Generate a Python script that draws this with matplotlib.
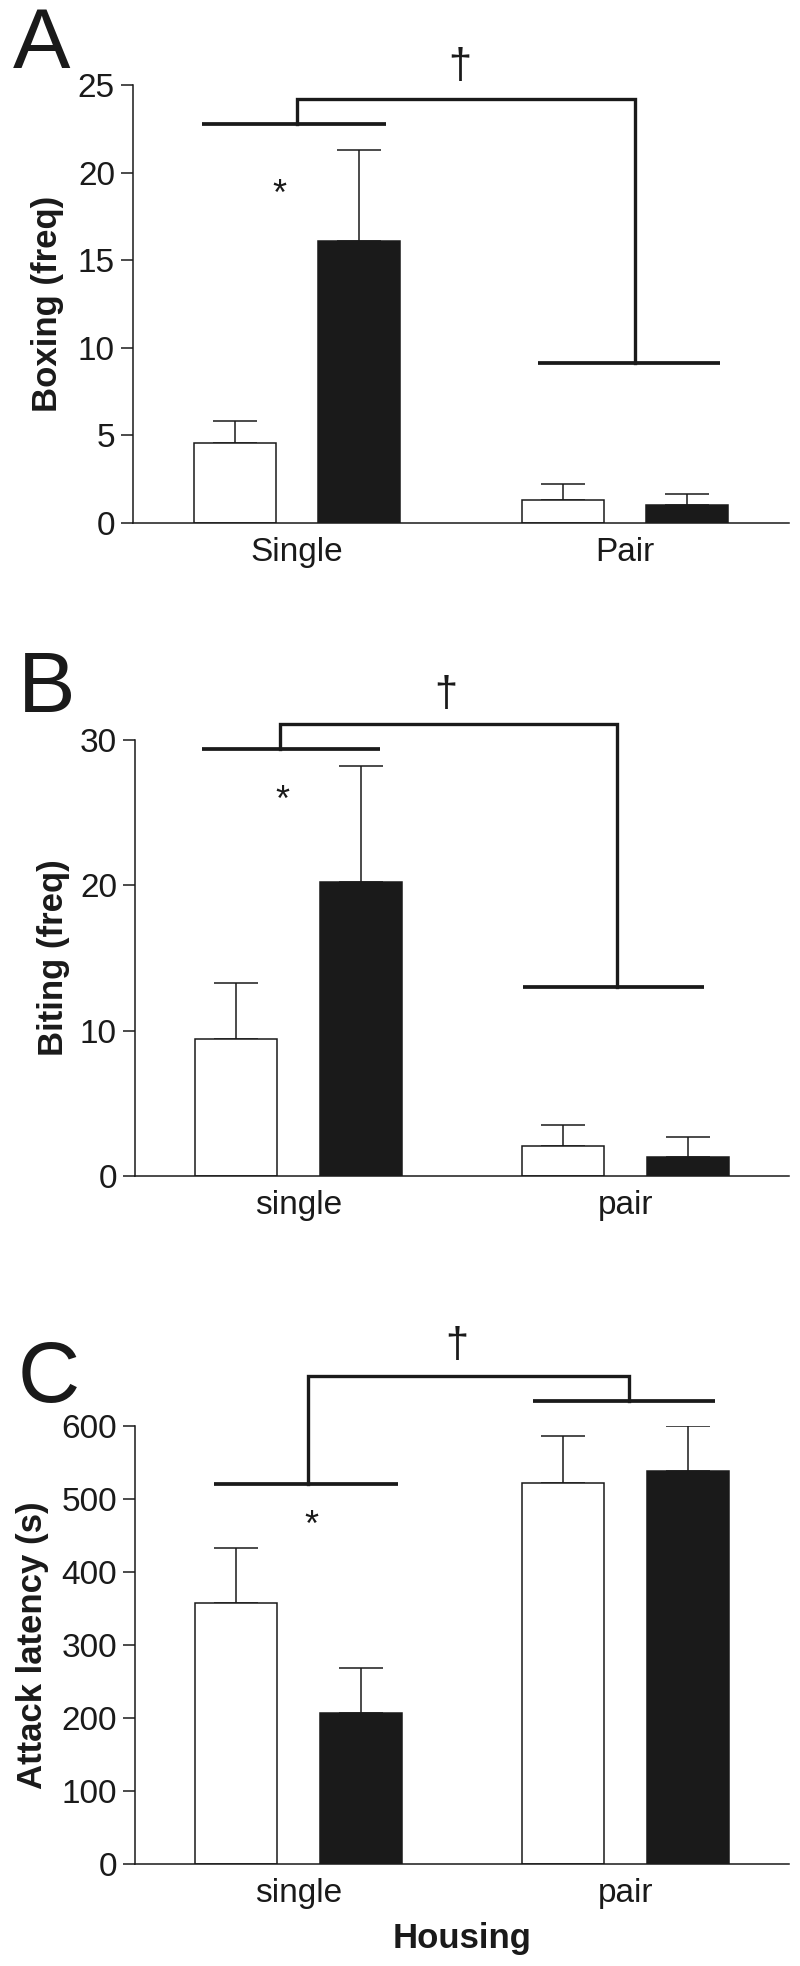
"""
housing_aggression.py - Boxing, biting and attack latency by housing condition
"""

import matplotlib
matplotlib.use('Agg')
import matplotlib.pyplot as plt

# data
housing_A = ['Single', 'Pair']
housing_BC = ['single', 'pair']

boxing_white = [4.55, 1.3]
boxing_white_err = [1.28, 0.9]
boxing_black = [16.1, 1.0]
boxing_black_err = [5.2, 0.65]

biting_white = [9.45, 2.05]
biting_white_err = [3.8, 1.45]
biting_black = [20.25, 1.3]
biting_black_err = [7.95, 1.35]

latency_white = [358, 522]
latency_white_err = [75, 64]
latency_black = [207, 539]
latency_black_err = [62, 61]

NARROW = ['Liberation Sans Narrow', 'Liberation Sans', 'DejaVu Sans']
BOLD = ['Liberation Sans', 'DejaVu Sans']
BAR_W = 0.25
OFFSET = 0.19
INK = '#1a1a1a'

W, H = 800, 1966
fig = plt.figure(figsize=(W / 100, H / 100), dpi=100, facecolor='white')


def px_axes(left, top, right, bottom):
    return fig.add_axes([left / W, 1 - bottom / H, (right - left) / W, (bottom - top) / H])


def draw_panel(ax, labels, white, white_err, black, black_err, ymax, yticks, ylabel):
    x = range(len(labels))
    xw = [i - OFFSET for i in x]
    xb = [i + OFFSET for i in x]
    ax.bar(xw, white, width=BAR_W, color='white', edgecolor=INK, linewidth=1.1, zorder=2)
    ax.bar(xb, black, width=BAR_W, color=INK, edgecolor=INK, linewidth=1.1, zorder=2)
    ax.errorbar(xw, white, yerr=[[0] * len(white), white_err], fmt='none',
                ecolor=INK, elinewidth=1.1, capsize=15.5, capthick=1.1, zorder=1)
    ax.errorbar(xb, black, yerr=[[0] * len(black), black_err], fmt='none',
                ecolor=INK, elinewidth=1.1, capsize=15.5, capthick=1.1, zorder=1)

    ax.set_xlim(-0.5, 1.5)
    ax.set_ylim(0, ymax)
    ax.set_yticks(yticks)
    ax.set_xticks(list(x))
    ax.set_xticklabels(labels)
    for lab in ax.get_xticklabels() + ax.get_yticklabels():
        lab.set_family(NARROW)
        lab.set_fontsize(24)
        lab.set_color(INK)
    ax.tick_params(axis='y', length=9, width=1.1, pad=4, color=INK)
    ax.tick_params(axis='x', length=0, pad=10)
    for s in ['top', 'right']:
        ax.spines[s].set_visible(False)
    for s in ['left', 'bottom']:
        ax.spines[s].set_linewidth(1.1)
        ax.spines[s].set_color(INK)
    ax.spines['left'].set_bounds(0, ymax)
    ax.text(ylabel[1], 0.5, ylabel[0], transform=ax.transAxes, rotation=90,
            ha='center', va='center', fontsize=25, fontweight='bold',
            family=BOLD, color=INK)


def draw_brackets(ax, left, right, top_y, dagger, star):
    # left = (y, x0, x1, stem_x), right = (y, x0, x1, stem_x)
    kw = dict(color=INK, lw=2.7, clip_on=False, solid_capstyle='butt', zorder=3)
    ax.plot([left[1], left[2]], [left[0], left[0]], **kw)
    ax.plot([right[1], right[2]], [right[0], right[0]], **kw)
    ax.plot([left[3], left[3], right[3], right[3]],
            [left[0], top_y, top_y, right[0]], color=INK, lw=2.4, clip_on=False,
            solid_joinstyle='miter', zorder=3)
    ax.text(dagger[0], dagger[1], '\u2020', ha='center', va='center', fontsize=30,
            family=BOLD, color=INK, clip_on=False)
    ax.text(star[0], star[1], '*', ha='center', va='center', fontsize=26,
            family=BOLD, color=INK, clip_on=False)


# Panel A - boxing
axA = px_axes(133, 85, 789, 523)
draw_panel(axA, housing_A, boxing_white, boxing_white_err, boxing_black, boxing_black_err,
           25, [0, 5, 10, 15, 20, 25], ('Boxing (freq)', -0.13))
draw_brackets(axA, (22.8, -0.29, 0.27, 0.0), (9.15, 0.735, 1.29, 1.03), 24.2,
              (0.495, 26.0), (-0.055, 18.7))

# Panel B - biting
axB = px_axes(135, 740, 789, 1176)
draw_panel(axB, housing_BC, biting_white, biting_white_err, biting_black, biting_black_err,
           30, [0, 10, 20, 30], ('Biting (freq)', -0.125))
draw_brackets(axB, (29.35, -0.295, 0.25, -0.057), (13.0, 0.687, 1.24, 0.975), 31.1,
              (0.45, 33.1), (-0.05, 25.8))

# Panel C - attack latency
axC = px_axes(135, 1426, 789, 1864)
draw_panel(axC, housing_BC, latency_white, latency_white_err, latency_black, latency_black_err,
           600, [0, 100, 200, 300, 400, 500, 600], ('Attack latency (s)', -0.156))
draw_brackets(axC, (520, -0.257, 0.305, 0.03), (634, 0.716, 1.273, 1.01), 668,
              (0.483, 709), (0.038, 462))
axC.text(0.5, -0.17, 'Housing', transform=axC.transAxes, ha='center', va='center',
         fontsize=25, fontweight='bold', family=BOLD, color=INK)

# panel letters
for letter, (lx, ly) in zip('ABC', [(13, 6), (18, 650), (18, 1340)]):
    fig.text(lx / W, 1 - ly / H, letter, ha='left', va='top', fontsize=62,
             family=BOLD, color=INK)

plt.savefig('out.png', dpi=100, facecolor='white')
plt.close()
